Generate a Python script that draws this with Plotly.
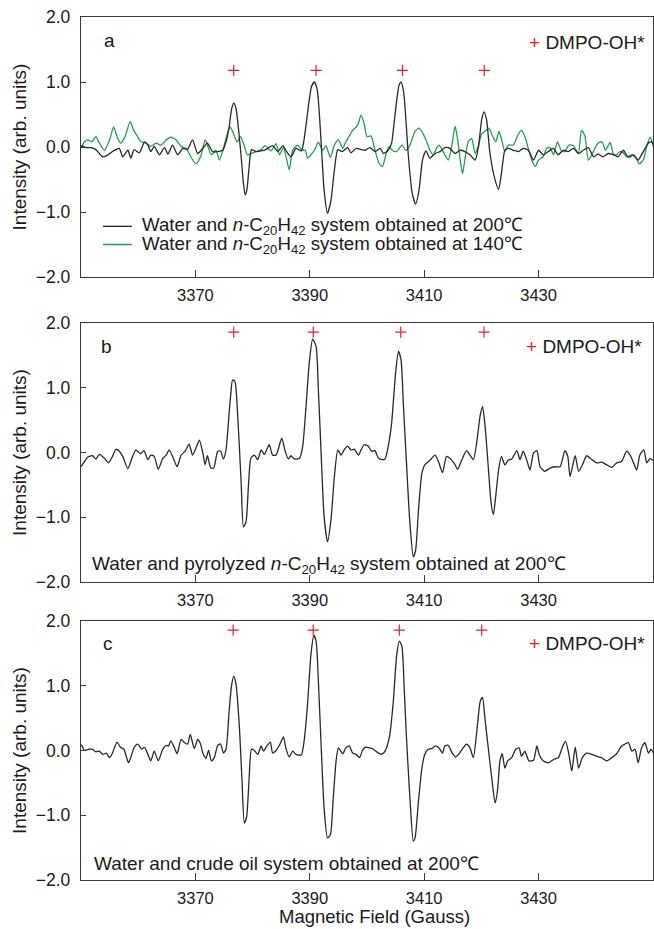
import plotly.graph_objects as go

# ---------------- data ----------------
FIELD_A_BLACK = [3350.0, 3350.9, 3351.75, 3352.6, 3353.2, 3353.8, 3354.7, 3355.5, 3356.1, 3356.7, 3357.3, 3358.2, 3358.7, 3359.3, 3360.2, 3361.1, 3361.7, 3362.2, 3362.8, 3363.7, 3364.6, 3365.2, 3366.0, 3366.9, 3367.8, 3368.6, 3369.5, 3370.4, 3371.3, 3372.1, 3373.0, 3373.9, 3374.8, 3375.35, 3375.9, 3376.3, 3376.7, 3377.1, 3377.5, 3378.0, 3378.4, 3378.7, 3379.0, 3379.4, 3379.8, 3380.6, 3381.5, 3382.3, 3383.5, 3384.4, 3385.3, 3385.8, 3386.7, 3387.6, 3388.5, 3388.9, 3389.3, 3389.9, 3390.3, 3390.8, 3391.3, 3391.7, 3392.1, 3392.5, 3393.1, 3393.7, 3394.3, 3394.9, 3395.7, 3396.6, 3397.2, 3398.1, 3398.95,
                 3399.65, 3400.5, 3401.4, 3402.3, 3402.9, 3403.7, 3404.3, 3404.8, 3405.2, 3405.6, 3405.95, 3406.4, 3406.8, 3407.2, 3407.9, 3408.5, 3409.1, 3409.7, 3410.3, 3411.0, 3411.9, 3412.8, 3413.6, 3414.5, 3415.4, 3416.3, 3417.1, 3418.0, 3418.9, 3419.5, 3420.05, 3420.45, 3420.9, 3421.5, 3422.4, 3423.0, 3423.5, 3424.1, 3424.7, 3425.6, 3426.5, 3427.3, 3428.2, 3429.1, 3430.0, 3430.8, 3431.7, 3432.6, 3433.4, 3434.3, 3435.2, 3436.1, 3436.95, 3437.8, 3438.7, 3439.6, 3440.4, 3441.3, 3442.2, 3443.1, 3443.9, 3444.8, 3445.7, 3446.6, 3447.4, 3448.3, 3449.2, 3449.8, 3450.2]
INT_A_BLACK = [0.02, -0.01, -0.01, -0.04, -0.10, -0.15, -0.12, -0.07, -0.04, -0.02, -0.15, -0.05, -0.17, -0.04, -0.09, 0.08, 0.03, -0.07, 0.01, -0.12, -0.01, -0.11, 0.03, -0.12, -0.02, -0.04, 0.11, -0.10, -0.02, 0.06, -0.07, -0.07, -0.05, 0.08, 0.31, 0.57, 0.68, 0.59, 0.31, -0.15, -0.56, -0.74, -0.66, -0.30, -0.04, -0.07, -0.06, -0.04, 0.02, -0.07, 0.02, -0.05, -0.15, -0.02, -0.06, 0.06, 0.31, 0.72, 0.93, 1.00, 0.88, 0.47, -0.10, -0.66, -1.02, -0.82, -0.35, -0.04, -0.07, -0.01, -0.09, -0.02, -0.04,
               -0.05, -0.01, -0.07, -0.02, -0.10, -0.05, 0.06, 0.42, 0.72, 0.95, 1.00, 0.85, 0.42, -0.10, -0.71, -0.88, -0.66, -0.20, -0.06, -0.17, -0.10, -0.07, -0.01, -0.02, -0.10, -0.05, -0.07, -0.12, -0.20, 0.01, 0.42, 0.54, 0.42, -0.10, -0.51, -0.65, -0.41, -0.05, -0.02, -0.05, -0.07, -0.02, -0.05, -0.20, -0.05, -0.12, -0.07, -0.02, -0.12, -0.05, -0.07, -0.02, -0.10, -0.05, -0.01, -0.15, -0.11, -0.15, -0.10, -0.12, -0.15, -0.05, -0.16, -0.12, -0.20, -0.07, 0.06, 0.08, -0.05]

FIELD_A_GREEN = [3350.0, 3350.6, 3351.2, 3351.9, 3352.6, 3353.2, 3354.1, 3355.0, 3355.7, 3356.3, 3356.9, 3357.7, 3358.6, 3359.2, 3359.9, 3360.5, 3361.4, 3362.2, 3363.1, 3364.0, 3364.9, 3365.7, 3366.6, 3367.5, 3368.4, 3369.2, 3370.1, 3370.9, 3371.7, 3372.1, 3372.8, 3373.6, 3374.2, 3374.8, 3375.6, 3376.05, 3376.5, 3377.3, 3377.9, 3378.4, 3379.1, 3379.8, 3380.6, 3381.5, 3382.2, 3383.2, 3384.1, 3384.7, 3385.4, 3386.4, 3387.0, 3387.9, 3388.6, 3389.2, 3389.6, 3390.2, 3390.8, 3391.5, 3392.25, 3392.8, 3393.6, 3394.3, 3395.0, 3395.75, 3396.3, 3396.9, 3397.5, 3397.9, 3398.4, 3398.95, 3399.5,
                 3400.0, 3400.7, 3401.4, 3402.1, 3402.7, 3403.3, 3403.85, 3404.4, 3405.2, 3406.1, 3406.8, 3407.5, 3408.4, 3409.1, 3409.7, 3410.3, 3411.0, 3411.6, 3412.2, 3412.6, 3413.3, 3414.2, 3414.9, 3415.4, 3415.85, 3416.3, 3416.7, 3417.1, 3417.7, 3418.3, 3418.9, 3419.5, 3420.05, 3420.75, 3421.3, 3421.9, 3422.5, 3423.1, 3423.55, 3424.1, 3424.7, 3425.6, 3426.3, 3427.0, 3427.6, 3428.2, 3428.8, 3429.4, 3430.0, 3430.8, 3431.4, 3432.0, 3432.6, 3433.3, 3434.0, 3434.6, 3435.3, 3436.1, 3436.95, 3437.5, 3438.1, 3438.7, 3439.3, 3439.9, 3440.4, 3441.1, 3441.7, 3442.5, 3443.1, 3443.65, 3444.2, 3444.8, 3445.4, 3446.3, 3447.0, 3447.6, 3448.3, 3448.9, 3449.5, 3449.9]
INT_A_GREEN = [-0.02, 0.08, 0.11, 0.08, 0.16, 0.06, -0.05, 0.11, 0.31, 0.16, 0.06, 0.16, 0.39, 0.26, 0.16, 0.08, 0.06, 0.01, 0.06, 0.03, 0.11, 0.15, 0.11, 0.01, -0.02, -0.15, -0.26, -0.15, 0.11, 0.03, -0.12, -0.05, -0.20, -0.05, 0.21, 0.31, 0.24, 0.08, 0.16, 0.06, -0.12, -0.10, -0.07, -0.04, 0.02, -0.06, 0.05, -0.12, -0.01, -0.35, -0.05, 0.03, -0.05, -0.05, -0.17, -0.12, -0.05, 0.07, -0.05, 0.02, -0.16, 0.03, 0.11, -0.02, 0.08, 0.17, 0.26, 0.29, 0.34, 0.49, 0.36,
               0.16, 0.17, -0.05, -0.25, -0.30, -0.12, 0.01, -0.05, -0.07, 0.03, -0.05, 0.03, 0.24, 0.29, 0.22, 0.11, -0.05, -0.12, -0.01, 0.03, -0.07, -0.20, 0.06, 0.32, 0.11, -0.20, -0.41, -0.20, 0.08, 0.13, -0.10, 0.03, 0.20, 0.25, 0.29, 0.18, 0.08, 0.24, 0.11, -0.07, 0.03, 0.03, 0.17, 0.26, 0.16, -0.02, -0.20, -0.30, -0.20, -0.15, -0.02, -0.01, -0.12, 0.08, -0.06, -0.07, 0.03, 0.02, -0.10, 0.26, 0.17, -0.20, -0.12, -0.01, 0.06, 0.08, -0.05, 0.07, -0.11, -0.12, -0.07, -0.09, -0.15, -0.12, -0.17, -0.26, -0.20, 0.01, 0.15, 0.06]

FIELD_B = [3350.0, 3350.6, 3351.2, 3352.0, 3352.6, 3353.2, 3354.1, 3354.8, 3355.5, 3356.1, 3356.7, 3357.3, 3358.2, 3358.9, 3359.6, 3360.4, 3361.0, 3361.7, 3362.2, 3362.8, 3363.5, 3364.3, 3364.9, 3365.4, 3366.2, 3366.8, 3367.5, 3368.2, 3368.9, 3369.5, 3370.1, 3370.7, 3371.3, 3371.7, 3372.1, 3372.7, 3373.2, 3373.9, 3374.4, 3374.9, 3375.35, 3375.9, 3376.2, 3376.5, 3376.9, 3377.4, 3378.0, 3378.4, 3378.85, 3379.3, 3379.7, 3380.3, 3380.9, 3381.5, 3382.05, 3382.9, 3383.5, 3384.1, 3385.1, 3385.7, 3386.25, 3386.7, 3387.3, 3388.2, 3388.75, 3389.3, 3389.9, 3390.5, 3391.1, 3391.5, 3392.0, 3392.5, 3393.1, 3393.7, 3394.3, 3394.9, 3395.45, 3396.0, 3396.6, 3397.2, 3397.8, 3398.5, 3398.95, 3399.5,
           3400.2, 3400.8, 3401.4, 3402.0, 3402.6, 3403.15, 3403.7, 3404.3, 3405.0, 3405.5, 3405.95, 3406.35, 3406.9, 3407.5, 3408.1, 3408.5, 3409.0, 3409.6, 3410.1, 3411.0, 3411.9, 3412.5, 3413.2, 3413.9, 3414.5, 3415.4, 3415.85, 3416.55, 3417.4, 3418.0, 3418.6, 3419.2, 3419.8, 3420.2, 3420.6, 3421.2, 3421.7, 3422.1, 3422.5, 3423.0, 3423.5, 3424.1, 3424.7, 3425.3, 3426.2, 3426.75, 3427.3, 3427.9, 3428.5, 3429.1, 3429.7, 3430.25, 3431.1, 3432.0, 3432.9, 3433.75, 3434.6, 3435.1, 3435.5, 3436.4, 3437.0, 3437.8, 3438.4, 3439.3, 3440.15, 3441.0, 3441.9, 3442.8, 3443.65, 3444.5, 3445.4, 3446.0, 3446.6, 3447.15, 3447.7, 3448.4, 3448.9, 3449.5, 3450.2]
INT_B = [-0.22, -0.14, -0.07, -0.05, -0.10, -0.03, -0.09, -0.16, -0.06, 0.05, 0.02, -0.06, -0.25, -0.09, 0.04, -0.02, 0.03, -0.11, -0.04, -0.06, -0.26, -0.09, -0.04, 0.04, -0.10, -0.22, -0.04, 0.02, 0.13, -0.04, 0.07, 0.19, -0.01, -0.19, -0.05, -0.24, -0.24, 0.02, 0.02, -0.10, 0.04, 0.61, 0.92, 1.12, 1.10, 0.56, -0.47, -1.15, -1.07, -0.47, -0.09, -0.04, -0.11, 0.04, -0.03, 0.12, -0.04, -0.04, 0.22, 0.02, -0.10, -0.05, -0.10, -0.09, 0.09, 0.66, 1.38, 1.75, 1.64, 0.97, -0.06, -0.99, -1.38, -1.04, -0.37, 0.04, -0.04, 0.04, 0.10, 0.04, 0.05, -0.04, 0.04, 0.12,
         0.10, 0.02, 0.03, -0.09, -0.11, -0.10, 0.09, 0.45, 1.23, 1.56, 1.43, 0.76, -0.16, -1.09, -1.61, -1.51, -0.89, -0.32, -0.19, -0.12, -0.04, -0.14, -0.31, -0.06, -0.09, -0.19, -0.26, -0.12, 0.03, -0.04, -0.11, 0.17, 0.58, 0.71, 0.45, -0.22, -0.78, -0.96, -0.68, -0.27, -0.06, -0.19, -0.12, -0.10, 0.03, -0.11, 0.02, -0.11, -0.27, -0.01, 0.03, -0.22, -0.29, -0.24, -0.22, -0.22, 0.03, -0.06, -0.37, -0.05, -0.29, -0.16, -0.05, -0.11, -0.16, -0.15, -0.19, -0.23, -0.16, -0.14, 0.02, -0.04, -0.16, -0.27, -0.04, 0.04, -0.16, -0.09, -0.14]

FIELD_C = [3350.0, 3350.2, 3350.6, 3351.5, 3352.0, 3352.6, 3353.2, 3353.8, 3354.4, 3355.0, 3355.5, 3356.3, 3356.9, 3357.5, 3358.3, 3358.7, 3359.3, 3359.9, 3360.6, 3361.1, 3361.7, 3362.2, 3362.8, 3363.5, 3364.3, 3364.9, 3365.3, 3365.7, 3366.3, 3366.8, 3367.5, 3368.1, 3368.65, 3369.1, 3369.8, 3370.4, 3370.9, 3371.3, 3371.85, 3372.3, 3372.8, 3373.3, 3373.9, 3374.4, 3374.9, 3375.35, 3375.9, 3376.3, 3376.7, 3377.1, 3377.7, 3378.15, 3378.55, 3378.96, 3379.4, 3379.8, 3380.3, 3380.9, 3381.5, 3381.9, 3382.5, 3383.1, 3383.5, 3384.1, 3384.8, 3385.4, 3385.8, 3386.4, 3387.0, 3387.6, 3388.5, 3389.0, 3389.6, 3390.2, 3390.7, 3391.1, 3391.5, 3392.0, 3392.5, 3393.1, 3393.6, 3394.1, 3394.6, 3395.0, 3395.75, 3396.3, 3396.9, 3397.5, 3398.1, 3398.7, 3399.2,
           3399.65, 3400.5, 3401.1, 3402.0, 3402.45, 3402.9, 3403.4, 3404.0, 3404.6, 3405.2, 3405.65, 3406.1, 3406.5, 3406.9, 3407.5, 3408.1, 3408.4, 3409.0, 3409.6, 3410.1, 3410.7, 3411.3, 3412.0, 3412.6, 3413.2, 3413.6, 3414.2, 3414.9, 3415.5, 3416.1, 3416.8, 3417.4, 3418.0, 3418.6, 3419.2, 3419.8, 3420.2, 3420.6, 3421.2, 3421.8, 3422.4, 3422.8, 3423.25, 3423.65, 3424.1, 3424.6, 3425.3, 3426.0, 3426.6, 3427.0, 3427.6, 3428.3, 3429.1, 3429.7, 3430.1, 3430.8, 3431.7, 3432.6, 3433.45, 3434.15, 3434.7, 3435.3, 3435.8, 3436.4, 3437.0, 3437.65, 3438.4, 3439.3, 3440.15, 3441.0, 3441.9, 3442.8, 3443.65, 3444.5, 3445.1, 3445.7, 3446.3, 3446.85, 3447.4, 3448.0, 3448.6, 3449.2, 3449.65, 3450.2]
INT_C = [0.09, 0.07, 0.00, 0.02, 0.02, -0.02, -0.01, -0.06, -0.04, -0.11, -0.04, 0.13, 0.05, 0.02, -0.19, -0.11, 0.05, 0.10, 0.02, 0.05, -0.06, -0.16, -0.01, -0.16, 0.02, 0.08, 0.07, 0.15, 0.05, -0.05, 0.17, 0.12, 0.10, 0.25, 0.03, 0.17, 0.10, -0.04, -0.12, 0.00, -0.16, -0.11, 0.08, 0.10, -0.04, 0.02, 0.61, 0.99, 1.15, 1.02, 0.35, -0.47, -1.12, -1.02, -0.42, 0.02, 0.00, -0.06, 0.07, -0.01, 0.07, 0.13, -0.04, 0.00, 0.10, 0.21, 0.04, -0.10, -0.01, -0.06, -0.07, 0.14, 0.71, 1.48, 1.78, 1.69, 1.07, 0.04, -0.89, -1.35, -1.30, -0.73, -0.16, 0.04, -0.05, 0.04, 0.07, -0.04, -0.06, -0.11, 0.00,
         0.05, 0.04, 0.02, -0.04, -0.06, -0.04, 0.04, 0.25, 0.76, 1.48, 1.69, 1.61, 0.97, 0.20, -0.73, -1.40, -1.35, -0.78, -0.27, -0.06, 0.02, 0.03, 0.07, 0.04, -0.04, 0.07, 0.08, -0.04, -0.10, -0.05, 0.04, 0.10, 0.04, -0.11, 0.30, 0.76, 0.82, 0.51, 0.04, -0.42, -0.81, -0.63, -0.16, -0.05, -0.27, -0.16, -0.11, 0.02, 0.04, -0.09, -0.01, -0.16, -0.15, 0.07, -0.06, -0.16, -0.19, -0.14, -0.11, 0.05, 0.14, -0.06, -0.32, 0.05, -0.27, -0.11, -0.04, -0.06, -0.09, -0.11, -0.16, -0.11, -0.05, 0.07, 0.10, 0.12, -0.01, 0.02, -0.19, 0.04, 0.12, -0.04, 0.02, -0.06]

# DMPO-OH* line positions (red crosses)
PEAKS_A = [3376.7, 3391.1, 3406.2, 3420.5]
PEAKS_B = [3376.7, 3390.6, 3405.9, 3420.45]
PEAKS_C = [3376.6, 3390.6, 3405.65, 3420.05]
MARK_Y = [1.18, 1.86, 1.86]

X_TICKS = [3370, 3390, 3410, 3430]
Y_TICKS = [-2, -1, 0, 1, 2]

LEGEND_A = ["Water and <i>n</i>-C<sub>20</sub>H<sub>42</sub> system obtained at 200\u2103",
            "Water and <i>n</i>-C<sub>20</sub>H<sub>42</sub> system obtained at 140\u2103"]
TEXT_B = "Water and pyrolyzed <i>n</i>-C<sub>20</sub>H<sub>42</sub> system obtained at 200\u2103"
TEXT_C = "Water and crude oil system obtained at 200\u2103"
X_TITLE = "Magnetic Field (Gauss)"
Y_TITLE = "Intensity (arb. units)"

# ---------------- figure ----------------
FONT = "Arial, Liberation Sans, Helvetica, sans-serif"
BLACK = "#2b2727"
GREEN = "#1f9f4f"
RED = "#e8202a"
AXC = "#3a3a3a"
TXT = "#1a1a1a"

fig = go.Figure()

def line(x, y, color, ax):
    fig.add_trace(go.Scatter(x=x, y=y, mode="lines", xaxis="x" + ax, yaxis="y" + ax,
                             line=dict(color=color, width=1.3, shape="spline", smoothing=0.6),
                             showlegend=False, hoverinfo="skip"))

line(FIELD_A_GREEN, INT_A_GREEN, GREEN, "")
line(FIELD_A_BLACK, INT_A_BLACK, BLACK, "")
line(FIELD_B, INT_B, BLACK, "2")
line(FIELD_C, INT_C, BLACK, "3")

for peaks, my, ax in [(PEAKS_A, MARK_Y[0], ""), (PEAKS_B, MARK_Y[1], "2"), (PEAKS_C, MARK_Y[2], "3")]:
    fig.add_trace(go.Scatter(x=peaks, y=[my] * len(peaks), mode="markers", xaxis="x" + ax, yaxis="y" + ax,
                             marker=dict(symbol="cross-thin", size=8, line=dict(color=RED, width=1.2)),
                             showlegend=False, hoverinfo="skip"))

domains = {"": [0.6987, 1.0], "2": [0.3453, 0.6454], "3": [0.0, 0.3001]}
layout = dict(width=654, height=929, margin=dict(l=81, r=1, t=17, b=49),
              paper_bgcolor="white", plot_bgcolor="white",
              font=dict(family=FONT, size=18, color=TXT))
for ax, dom in domains.items():
    xa = dict(domain=[0, 1], range=[3350, 3450], tickvals=X_TICKS, ticks="inside", ticklen=7,
              tickwidth=1.2, tickcolor=AXC, showline=True, linecolor=AXC, linewidth=1.3, mirror=True,
              showgrid=False, zeroline=False, anchor="y" + ax, ticklabelstandoff=3,
              tickfont=dict(size=16.5, color=TXT))
    ya = dict(domain=dom, range=[-2, 2], tickvals=Y_TICKS, tickformat=".1f", ticks="inside", ticklen=5,
              tickwidth=1.2, tickcolor=AXC, showline=True, linecolor=AXC, linewidth=1.3, mirror=True,
              showgrid=False, zeroline=False, anchor="x" + ax, ticklabelstandoff=6,
              tickfont=dict(size=17.5, color=TXT),
              title=dict(text=Y_TITLE, font=dict(size=19, color=TXT), standoff=4))
    layout["xaxis" + ax] = xa
    layout["yaxis" + ax] = ya
fig.update_layout(**layout)

ann = []
def txt(x, y, t, ax, size=19, anchor="left"):
    ann.append(dict(x=x, y=y, xref="x" + ax, yref="y" + ax, text=t, showarrow=False,
                    xanchor=anchor, yanchor="middle", font=dict(size=size, color=TXT, family=FONT)))

for ax, (lx, ly) in {"": (3354.9, 1.64), "2": (3354.5, 1.64), "3": (3354.7, 1.66)}.items():
    txt(lx, ly, "abc"[["", "2", "3"].index(ax)], ax, size=19, anchor="center")

for ax, (dx, dy) in {"": (3428.0, 1.61), "2": (3427.5, 1.63), "3": (3428.0, 1.65)}.items():
    txt(dx, dy, "<span style='color:%s'>+</span> DMPO-OH*" % RED, ax, size=19)

txt(3360.3, -1.22, LEGEND_A[0], "", size=18.7)
txt(3360.3, -1.50, LEGEND_A[1], "", size=18.7)
txt(3351.6, -1.74, TEXT_B, "2", size=19)
txt(3351.9, -1.74, TEXT_C, "3", size=19)

# x-axis title below the bottom panel
ann.append(dict(x=0.513, y=-0.0418, xref="paper", yref="paper", text=X_TITLE, showarrow=False,
                xanchor="center", yanchor="middle", font=dict(size=18.5, color=TXT, family=FONT)))
fig.update_layout(annotations=ann)

fig.add_shape(type="line", xref="x", yref="y", x0=3353.85, x1=3358.9, y0=-1.22, y1=-1.22,
              line=dict(color=BLACK, width=1.3))
fig.add_shape(type="line", xref="x", yref="y", x0=3353.85, x1=3358.9, y0=-1.50, y1=-1.50,
              line=dict(color=GREEN, width=1.5))

fig.write_html("out.html")
